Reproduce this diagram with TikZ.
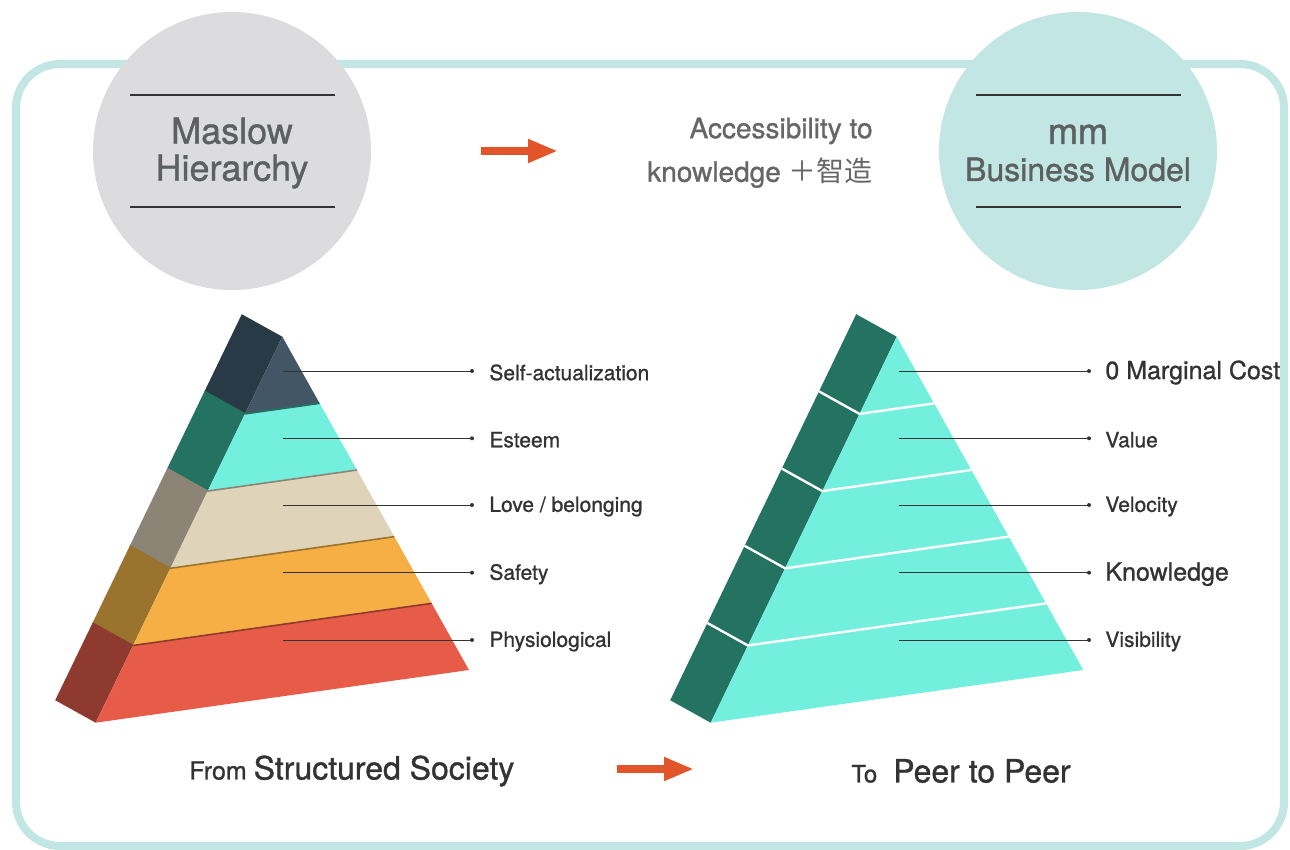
\documentclass[tikz,border=0pt]{standalone}
\usepackage{fontspec}
\setmainfont{TeX Gyre Heros}[FakeBold=1]
\newfontfamily\cjk{Noto Sans CJK SC}
\usetikzlibrary{calc,arrows.meta}

\definecolor{frameteal}{HTML}{C1E6E3}
\definecolor{circgray}{HTML}{DCDCDE}
\definecolor{circtxt}{HTML}{5C6060}
\definecolor{softtxt}{HTML}{666666}
\definecolor{labelgray}{HTML}{333333}
\definecolor{arrowor}{HTML}{E2542A}
\definecolor{slate}{HTML}{435666}
\definecolor{slateD}{HTML}{283A45}
\definecolor{aqua}{HTML}{73EFDD}
\definecolor{aquaD}{HTML}{237262}
\definecolor{beige}{HTML}{DFD3B9}
\definecolor{beigeD}{HTML}{8C8576}
\definecolor{amber}{HTML}{F6AF45}
\definecolor{amberD}{HTML}{9A742F}
\definecolor{brick}{HTML}{E65C49}
\definecolor{brickD}{HTML}{8F3A2F}

\tikzset{
  bubble/.style={circle, minimum size=139pt, inner sep=0pt},
  bubtxt/.style={text=circtxt, align=center, font=\fontsize{18}{18.5}\selectfont},
  rule/.style={labelgray, line width=0.6pt},
  bigarrow/.style={arrowor, line width=4pt, -{Triangle[length=15pt,width=11pt]}},
  tick/.style={labelgray, line width=0.5pt},
  lbl/.style={text=labelgray, anchor=west, inner sep=0pt, font=\fontsize{10.5}{12}\selectfont},
  lblbig/.style={lbl, font=\fontsize{12.5}{14}\selectfont},
}

\begin{document}
\begin{tikzpicture}[x=0.5pt, y=-0.5pt, line join=round]
    \useasboundingbox (0,0) rectangle (1290,850);

    % outer frame
    \draw[frameteal, line width=4pt, rounded corners=22pt] (16,64) rectangle (1284,846);

    % bubbles
    \node[bubble, fill=circgray] (maslow) at (232,151) {};
    \node[bubble, fill=frameteal] (mmbm) at (1078,151) {};
    \draw[rule] ($(maslow.center)+(-102,-56)$) -- ++(205,0);
    \draw[rule] ($(maslow.center)+(-102,56)$) -- ++(205,0);
    \draw[rule] ($(mmbm.center)+(-102,-56)$) -- ++(205,0);
    \draw[rule] ($(mmbm.center)+(-102,56)$) -- ++(205,0);
    \node[bubtxt] (maslowtxt) at ($(maslow.center)+(0,2)$) {Maslow\\Hierarchy};
    \node[bubtxt] (mmbmtxt) at ($(mmbm.center)+(0,2)$) {mm\\{\fontsize{16}{18.5}\selectfont Business Model}};

    % top arrow and access text
    \coordinate (ar1s) at (481,151);
    \coordinate (ar1e) at (558,151);
    \draw[bigarrow] (ar1s) -- (ar1e);
    \node[text=softtxt, anchor=east, inner sep=0pt, font=\fontsize{14}{16}\selectfont] (acc1) at (873,131) {Accessibility to};
    \node[text=softtxt, anchor=east, inner sep=0pt, font=\fontsize{14}{16}\selectfont] (acc2) at (873,173) {knowledge {\cjk ＋智造}};

    % left pyramid
    \coordinate (LA) at (282.3,336.7);
    \coordinate (LL) at (95.7,722.7);
    \coordinate (LR) at (469,670);
    \coordinate (dep) at (-40.5,-22.5);
    \foreach \i/\fc/\sc [evaluate=\i as \ta using \i/5, evaluate=\i as \tb using (\i+1)/5] in {0/slate/slateD, 1/aqua/aquaD, 2/beige/beigeD, 3/amber/amberD, 4/brick/brickD} {
        \fill[\sc] ($(LA)!\ta!(LL)$) -- ($(LA)!\tb!(LL)$) -- ($(LA)!\tb!(LL)+(dep)$) -- ($(LA)!\ta!(LL)+(dep)$) -- cycle;
        \fill[\fc] ($(LA)!\ta!(LL)$) -- ($(LA)!\tb!(LL)$) -- ($(LA)!\tb!(LR)$) -- ($(LA)!\ta!(LR)$) -- cycle;
        \ifnum\i>0
            \draw[\sc, line width=0.8pt] ($(LA)!\ta!(LL)+(dep)$) -- ($(LA)!\ta!(LL)$) -- ($(LA)!\ta!(LR)$);
        \fi
    }

    % right pyramid
    \coordinate (RA) at (896.7,336.7);
    \coordinate (RL) at (710.7,722.7);
    \coordinate (RR) at (1083.3,670);
    \foreach \i [evaluate=\i as \ta using \i/5, evaluate=\i as \tb using (\i+1)/5] in {0,...,4} {
        \fill[aquaD] ($(RA)!\ta!(RL)$) -- ($(RA)!\tb!(RL)$) -- ($(RA)!\tb!(RL)+(dep)$) -- ($(RA)!\ta!(RL)+(dep)$) -- cycle;
        \fill[aqua] ($(RA)!\ta!(RL)$) -- ($(RA)!\tb!(RL)$) -- ($(RA)!\tb!(RR)$) -- ($(RA)!\ta!(RR)$) -- cycle;
    }
    \foreach \i [evaluate=\i as \ta using \i/5] in {1,...,4} {
        \draw[white, line width=1.2pt] ($(RA)!\ta!(RL)+(dep)$) -- ($(RA)!\ta!(RL)$) -- ($(RA)!\ta!(RR)$);
    }

    % labels (Maslow)
    \foreach \k/\y/\txt in {1/371/Self-actualization, 2/438.3/Esteem, 3/505/{Love / belonging}, 4/572.7/Safety, 5/640/Physiological} {
        \coordinate (ml\k) at (283,\y);
        \coordinate (md\k) at (472,\y);
        \draw[tick] (ml\k) -- (md\k);
        \fill[labelgray] (md\k) circle (1pt);
        \node[lbl] (mt\k) at (489,\y+1.5) {\txt};
    }

    % labels (business model)
    \foreach \k/\y/\st/\txt in {1/371/lblbig/0 Marginal Cost, 2/438.3/lbl/Value, 3/505/lbl/Velocity, 4/572.7/lblbig/Knowledge, 5/640/lbl/Visibility} {
        \coordinate (bl\k) at (899,\y);
        \coordinate (bd\k) at (1089,\y);
        \draw[tick] (bl\k) -- (bd\k);
        \fill[labelgray] (bd\k) circle (1pt);
        \node[\st] (bt\k) at (1105,\y+1.5) {\txt};
    }

    % bottom line
    \node[text=labelgray, anchor=west, inner sep=0pt, font=\fontsize{12.5}{14}\selectfont] (from) at (189,771) {From {\fontsize{16}{18}\selectfont Structured Society}};
    \coordinate (ar2s) at (617,769);
    \coordinate (ar2e) at (694,769);
    \draw[bigarrow] (ar2s) -- (ar2e);
    \node[text=labelgray, anchor=west, inner sep=0pt, font=\fontsize{12}{14}\selectfont] (to) at (851,771) {To\hspace{8pt}{\fontsize{16}{18}\selectfont Peer to Peer}};
\end{tikzpicture}
\end{document}
